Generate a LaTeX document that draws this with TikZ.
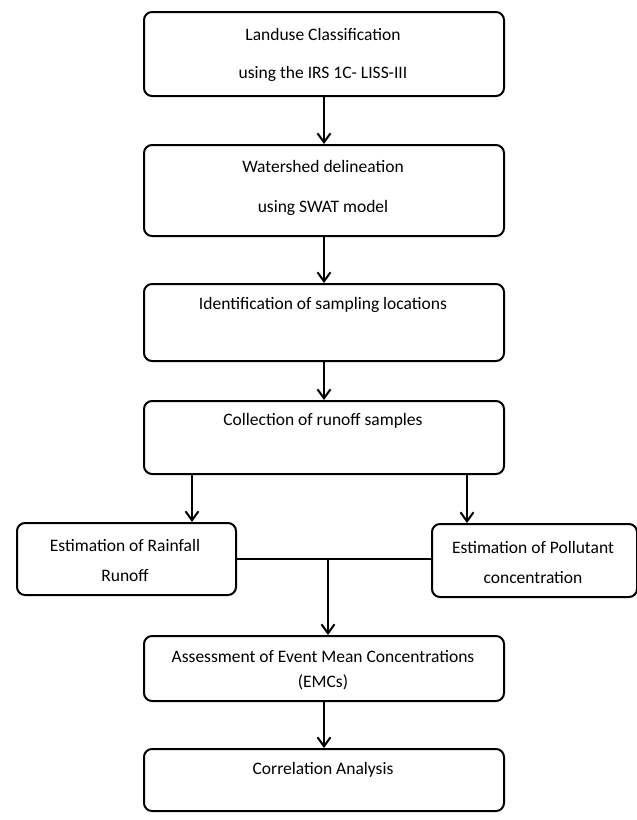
\documentclass[tikz,border=0pt]{standalone}
\usepackage{fontspec}
\setmainfont{Carlito}
\usetikzlibrary{arrows.meta}
\begin{document}
\begin{tikzpicture}[x=1pt,y=-1pt,
  box/.style={draw, line width=2pt, rounded corners=8pt},
  lbl/.style={font=\fontsize{17.5}{21}\selectfont, inner sep=0pt, align=center},
  arr/.style={line width=2pt, -{Straight Barb[length=9pt,width=13pt,line width=2pt]}},
  ln/.style={line width=2pt}]
\useasboundingbox (0,0) rectangle (637,820);
% boxes
\node[box, minimum width=360pt, minimum height=84pt, anchor=north west] (b1) at (143,11) {};
\node[box, minimum width=360pt, minimum height=91pt, anchor=north west] (b2) at (143,144) {};
\node[box, minimum width=360pt, minimum height=77pt, anchor=north west] (b3) at (143,283) {};
\node[box, minimum width=360pt, minimum height=73pt, anchor=north west] (b4) at (143,400) {};
\node[box, minimum width=219pt, minimum height=72pt, anchor=north west] (b5) at (16,522) {};
\node[box, minimum width=205pt, minimum height=73pt, anchor=north west] (b6) at (431,523) {};
\node[box, minimum width=360pt, minimum height=65pt, anchor=north west] (b7) at (143,635) {};
\node[box, minimum width=360pt, minimum height=62pt, anchor=north west] (b8) at (143,748) {};
% texts
\node[lbl] (t1a) at (323,34) {Landuse Classification};
\node[lbl] (t1b) at (323,74) {using the IRS 1C- LISS-III};
\node[lbl] (t2a) at (323,166) {Watershed delineation};
\node[lbl] (t2b) at (323,208) {using SWAT model};
\node[lbl] (t3) at (323,305) {Identification of sampling locations};
\node[lbl] (t4) at (323,421) {Collection of runoff samples};
\node[lbl] (t5) at (125,560) {Estimation of Rainfall\\[9pt]Runoff};
\node[lbl] (t6) at (533,562) {Estimation of Pollutant\\[9pt]concentration};
\node[lbl] (t7) at (323,670) {Assessment of Event Mean Concentrations\\[4pt](EMCs)};
\node[lbl] (t8) at (323,770) {Correlation Analysis};
% connectors
\draw[arr] (b1.south) -- (b2.north);
\draw[arr] (b2.south) -- (b3.north);
\draw[arr] (b3.south) -- (b4.north);
\draw[arr] (b4.south -| 192,0) -- (b5.north -| 192,0);
\draw[arr] (b4.south -| 467,0) -- (b6.north -| 467,0);
\coordinate (j) at (328,559);
\draw[ln] (b5.east |- j) -- (b6.west |- j);
\draw[arr] (j) -- (b7.north -| j);
\draw[arr] (b7.south) -- (b8.north);
\end{tikzpicture}
\end{document}
